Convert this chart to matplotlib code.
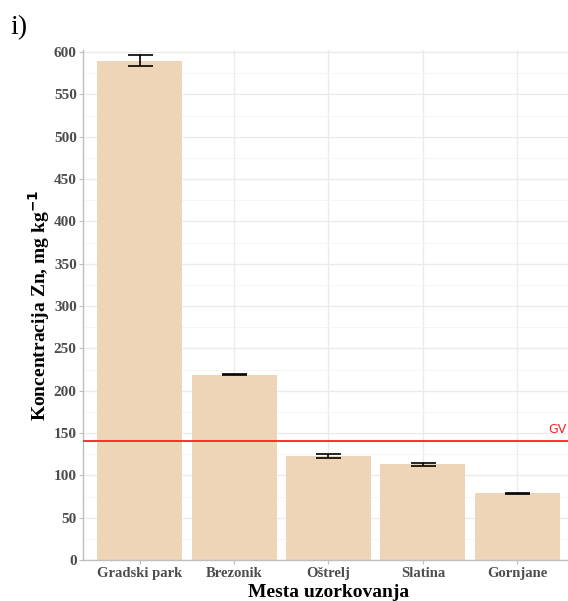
import matplotlib.pyplot as plt
import numpy as np

# data
sites = ["Gradski park", "Brezonik", "Oštrelj", "Slatina", "Gornjane"]
zn_mean = [590, 219, 123, 113, 79]
zn_err = [6.5, 1.0, 2.5, 1.5, 0.6]
gv_limit = 140

bar_color = "#EED5B7"
grid_color = "#EBEBEB"

plt.rcParams["font.family"] = ["Liberation Serif", "DejaVu Serif"]

fig = plt.figure(figsize=(5.68, 6.01), dpi=100)
ax = fig.add_axes([0.1461, 0.0682, 0.8644, 0.8486])

x = np.arange(1, len(sites) + 1)
ax.bar(x, zn_mean, width=0.9, color=bar_color, zorder=2)
ax.errorbar(x, zn_mean, yerr=zn_err, fmt="none", ecolor="black",
            elinewidth=1.2, capsize=9, capthick=1.2, zorder=3)

ax.axhline(gv_limit, color="#FF2020", lw=1.3, zorder=4)
ax.text(5.52, gv_limit + 6, "GV", color="#FF2020", fontsize=9,
        family="DejaVu Sans", ha="right", va="bottom")

ax.set_xlim(0.4, 5.6)
ax.set_ylim(0, 602.4)
ax.set_xticks(x)
ax.set_xticklabels(sites)
ax.set_yticks(np.arange(0, 601, 50))
ax.set_yticks(np.arange(25, 601, 50), minor=True)

ax.grid(True, which="major", color=grid_color, lw=1.0, zorder=0)
ax.grid(True, which="minor", axis="y", color="#F4F4F4", lw=0.6, zorder=0)
ax.set_axisbelow(True)

for side in ["top", "right"]:
    ax.spines[side].set_visible(False)
for side in ["left", "bottom"]:
    ax.spines[side].set_color("#BEBEBE")
    ax.spines[side].set_linewidth(1.0)

ax.tick_params(axis="both", which="major", length=3, color="#BEBEBE",
               labelcolor="#4D4D4D", labelsize=10.5, pad=2)
ax.tick_params(axis="y", which="major", labelsize=11, pad=1.5)
ax.tick_params(axis="both", which="minor", length=0)
for lab in ax.get_xticklabels() + ax.get_yticklabels():
    lab.set_fontweight("bold")

ax.set_xlabel("Mesta uzorkovanja", fontsize=14, fontweight="bold", labelpad=3)
ax.set_ylabel("Koncentracija Zn, mg kg$^{\\mathbf{-1}}$", fontsize=14,
              fontweight="bold", labelpad=1)

fig.text(0.018, 0.975, "i)", fontsize=20, va="top", ha="left")

fig.savefig("out.png", dpi=100)
